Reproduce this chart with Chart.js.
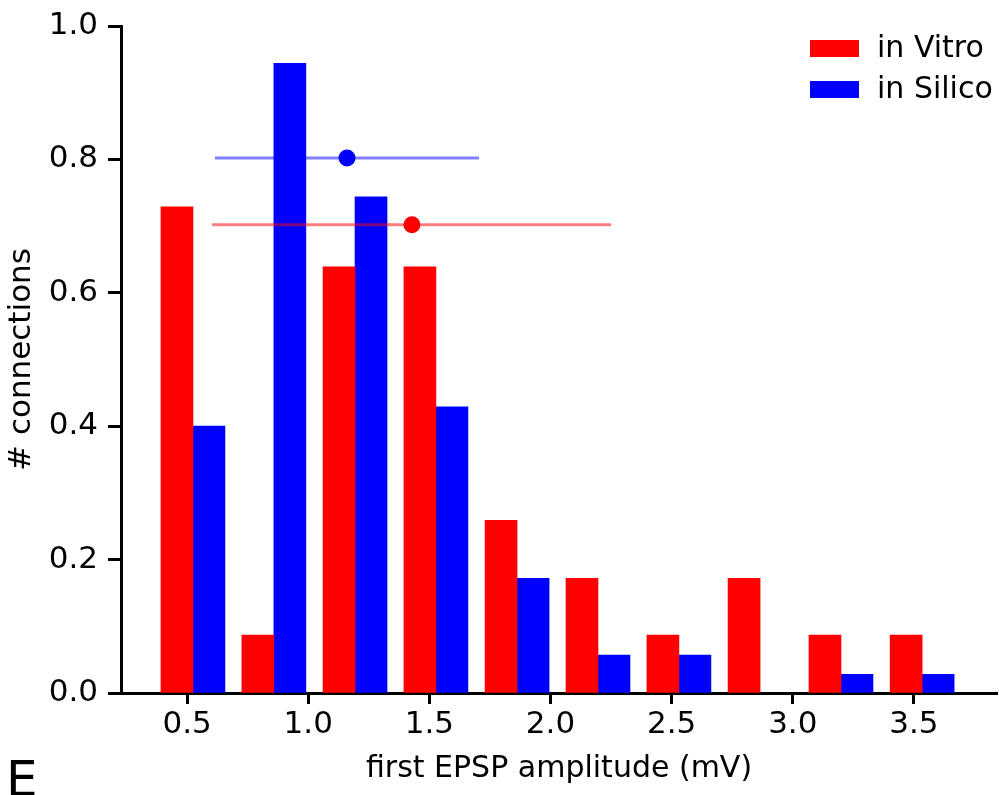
<!DOCTYPE html>
<html>
<head>
<meta charset="utf-8">
<script src="https://cdn.jsdelivr.net/npm/chart.js@4.4.1/dist/chart.umd.min.js"></script>
<style>
  html, body { margin: 0; padding: 0; background: #ffffff; }
  #wrap { width: 999px; height: 795px; position: relative; }
</style>
</head>
<body>
<div id="wrap"><canvas id="c" width="999" height="795"></canvas></div>
<script>
// ---- data ----
const binCenters   = [0.524, 0.858, 1.193, 1.527, 1.862, 2.196, 2.530, 2.865, 3.199, 3.534];
const inVitro      = [0.729, 0.087, 0.639, 0.639, 0.259, 0.172, 0.087, 0.172, 0.087, 0.087];
const inSilico     = [0.400, 0.944, 0.744, 0.429, 0.172, 0.057, 0.057, null, 0.028, 0.028];
const vitroMean    = [1.428, 0.702];
const vitroRange   = [0.603, 2.250];
const silicoMean   = [1.160, 0.802];
const silicoRange  = [0.615, 1.705];
const xTicks       = [0.5, 1.0, 1.5, 2.0, 2.5, 3.0, 3.5];
const xTickLabels  = ['0.5', '1.0', '1.5', '2.0', '2.5', '3.0', '3.5'];
const yTicks       = [0.0, 0.2, 0.4, 0.6, 0.8, 1.0];
const yTickLabels  = ['0.0', '0.2', '0.4', '0.6', '0.8', '1.0'];
const seriesNames  = ['in Vitro', 'in Silico'];
const xTitle       = 'first EPSP amplitude (mV)';
const yTitle       = '# connections';
const panelLetter  = 'E';

const RED = '#ff0000', BLUE = '#0000ff';
const FONT = 'DejaVu Sans';

const pairs = (xs, ys) => xs.map((x, i) => ({ x: x, y: ys[i] }));

const legendPlugin = {
  id: 'customLegend',
  afterDraw(chart) {
    const ctx = chart.ctx;
    ctx.save();
    ctx.font = '30px "' + FONT + '"';
    ctx.textBaseline = 'middle';
    ctx.textAlign = 'left';
    const items = chart.data.datasets.filter(d => d.inLegend);
    items.forEach((d, i) => {
      const y = 40 + i * 41;
      ctx.fillStyle = d.backgroundColor;
      ctx.fillRect(810, y, 49, 17);
      ctx.fillStyle = '#000';
      ctx.fillText(d.label, 877, y + 9);
    });
    // panel letter
    ctx.font = '50px "' + FONT + '"';
    ctx.textBaseline = 'alphabetic';
    ctx.fillText(panelLetter, 6, 796);
    ctx.restore();
  }
};

new Chart(document.getElementById('c'), {
  type: 'bar',
  data: {
    datasets: [
      { type: 'line', label: 'vitroRange', data: pairs(vitroRange, [vitroMean[1], vitroMean[1]]),
        borderColor: 'rgba(255,0,0,0.5)', borderWidth: 3, pointRadius: 0, order: 0 },
      { type: 'line', label: 'silicoRange', data: pairs(silicoRange, [silicoMean[1], silicoMean[1]]),
        borderColor: 'rgba(0,0,255,0.5)', borderWidth: 3, pointRadius: 0, order: 0 },
      { type: 'line', label: 'vitroMean', data: [{ x: vitroMean[0], y: vitroMean[1] }], showLine: false,
        pointRadius: 8.5, pointBackgroundColor: RED, pointBorderWidth: 0, borderColor: RED, order: -1 },
      { type: 'line', label: 'silicoMean', data: [{ x: silicoMean[0], y: silicoMean[1] }], showLine: false,
        pointRadius: 8.5, pointBackgroundColor: BLUE, pointBorderWidth: 0, borderColor: BLUE, order: -1 },
      { label: seriesNames[0], inLegend: true, data: pairs(binCenters, inVitro),
        backgroundColor: RED, borderWidth: 0, barThickness: 32, order: 1 },
      { label: seriesNames[1], inLegend: true, data: pairs(binCenters, inSilico),
        backgroundColor: BLUE, borderWidth: 0, barThickness: 32, order: 1 }
    ]
  },
  options: {
    responsive: false,
    animation: false,
    events: [],
    layout: { autoPadding: false, padding: { top: 26, right: 2, left: 0, bottom: 0 } },
    plugins: { legend: { display: false }, tooltip: { enabled: false } },
    scales: {
      x: {
        type: 'linear',
        min: 0.227, max: 3.843,
        offset: false,
        afterFit(s) { s.height = 102; s.paddingLeft = 0; s.paddingRight = 0; },
        afterBuildTicks(s) { s.ticks = xTicks.map(v => ({ value: v })); },
        grid: { offset: false, drawOnChartArea: false, drawTicks: true, tickLength: 11, tickWidth: 3, tickColor: '#000' },
        border: { display: true, color: '#000', width: 3 },
        ticks: {
          color: '#000', font: { family: FONT, size: 31 }, padding: 2, maxRotation: 0, autoSkip: false,
          callback: (v) => { const i = xTicks.findIndex(t => Math.abs(t - v) < 1e-9); return i >= 0 ? xTickLabels[i] : ''; }
        },
        title: { display: true, text: xTitle, color: '#000', font: { family: FONT, size: 30 }, padding: { top: 0, bottom: 8 } }
      },
      y: {
        min: 0, max: 1.0,
        afterFit(s) { s.width = 121; s.paddingTop = 0; s.paddingBottom = 0; },
        afterBuildTicks(s) { s.ticks = yTicks.map(v => ({ value: v })); },
        grid: { drawOnChartArea: false, drawTicks: true, tickLength: 13, tickWidth: 3, tickColor: '#000' },
        border: { display: true, color: '#000', width: 3 },
        ticks: {
          color: '#000', font: { family: FONT, size: 31 }, padding: 10, autoSkip: false,
          callback: (v) => { const i = yTicks.findIndex(t => Math.abs(t - v) < 1e-9); return i >= 0 ? yTickLabels[i] : ''; }
        },
        title: { display: true, text: yTitle, color: '#000', font: { family: FONT, size: 31 }, padding: { top: 3, bottom: 0 } }
      }
    }
  },
  plugins: [legendPlugin]
});
</script>
</body>
</html>
